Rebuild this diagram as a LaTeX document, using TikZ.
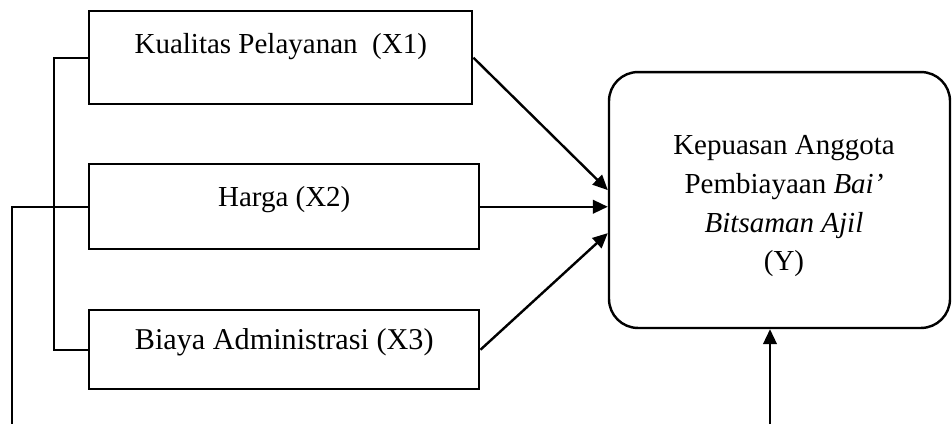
\documentclass[tikz,border=0pt]{standalone}
\usepackage{fontspec}
\setmainfont{Liberation Serif}
\usetikzlibrary{arrows.meta}
\tikzset{
  varbox/.style={draw, line width=1pt, rectangle, inner xsep=0pt, inner ysep=0pt, anchor=north west, font=\fontsize{12}{14}\selectfont},
  ybox/.style={draw, line width=1pt, rounded corners=12pt, minimum width=141.1pt, minimum height=105.9pt, inner sep=0pt},
  link/.style={line width=1pt},
  arr/.style={line width=1pt, -{Triangle[length=6.2pt,width=5.6pt]}}
}

\begin{document}
\begin{tikzpicture}[x=0.4138pt, y=-0.4138pt]
            \useasboundingbox (0,0) rectangle (952,424);
            \node[varbox, minimum width=158.5pt, text height=17.4pt, text depth=21.1pt] (x1) at ( 88, 10) {Kualitas Pelayanan~ (X1)};
            \node[varbox, minimum width=161.4pt, text height=17.4pt, text depth=17.8pt] (x2) at ( 88,163) {Harga (X2)};
            \node[varbox, minimum width=161.4pt, text height=16.1pt, text depth=16.6pt,
                  font=\fontsize{12.5}{14}\selectfont]                                 (x3) at ( 88,309) {Biaya Administrasi (X3)};
            \node[ybox]                                                                 (y)  at (779.5,200) {};
            \node[align=center, font=\fontsize{12}{16}\selectfont]                     (ytext) at (784,206.5)
                 {Kepuasan Anggota\\Pembiayaan \textit{Bai’}\\\textit{Bitsaman Ajil}\\(Y)};
            \coordinate (lft) at ( 12,424);
            \coordinate (bot) at (770,424);
            \draw[link] (x1.west) -- ++(-34,0) |- (x3.west);
            \draw[link] (x2.west) -| (lft);
            \draw[arr]  (x1.east) -- ([yshift=4.1pt]y.west);
            \draw[arr]  (x2.east) -- (x2.east -| y.west);
            \draw[arr]  (x3.east) -- ([yshift=-13.7pt]y.west);
            \draw[arr]  (bot)     -- (bot |- y.south);
\end{tikzpicture}
\end{document}
